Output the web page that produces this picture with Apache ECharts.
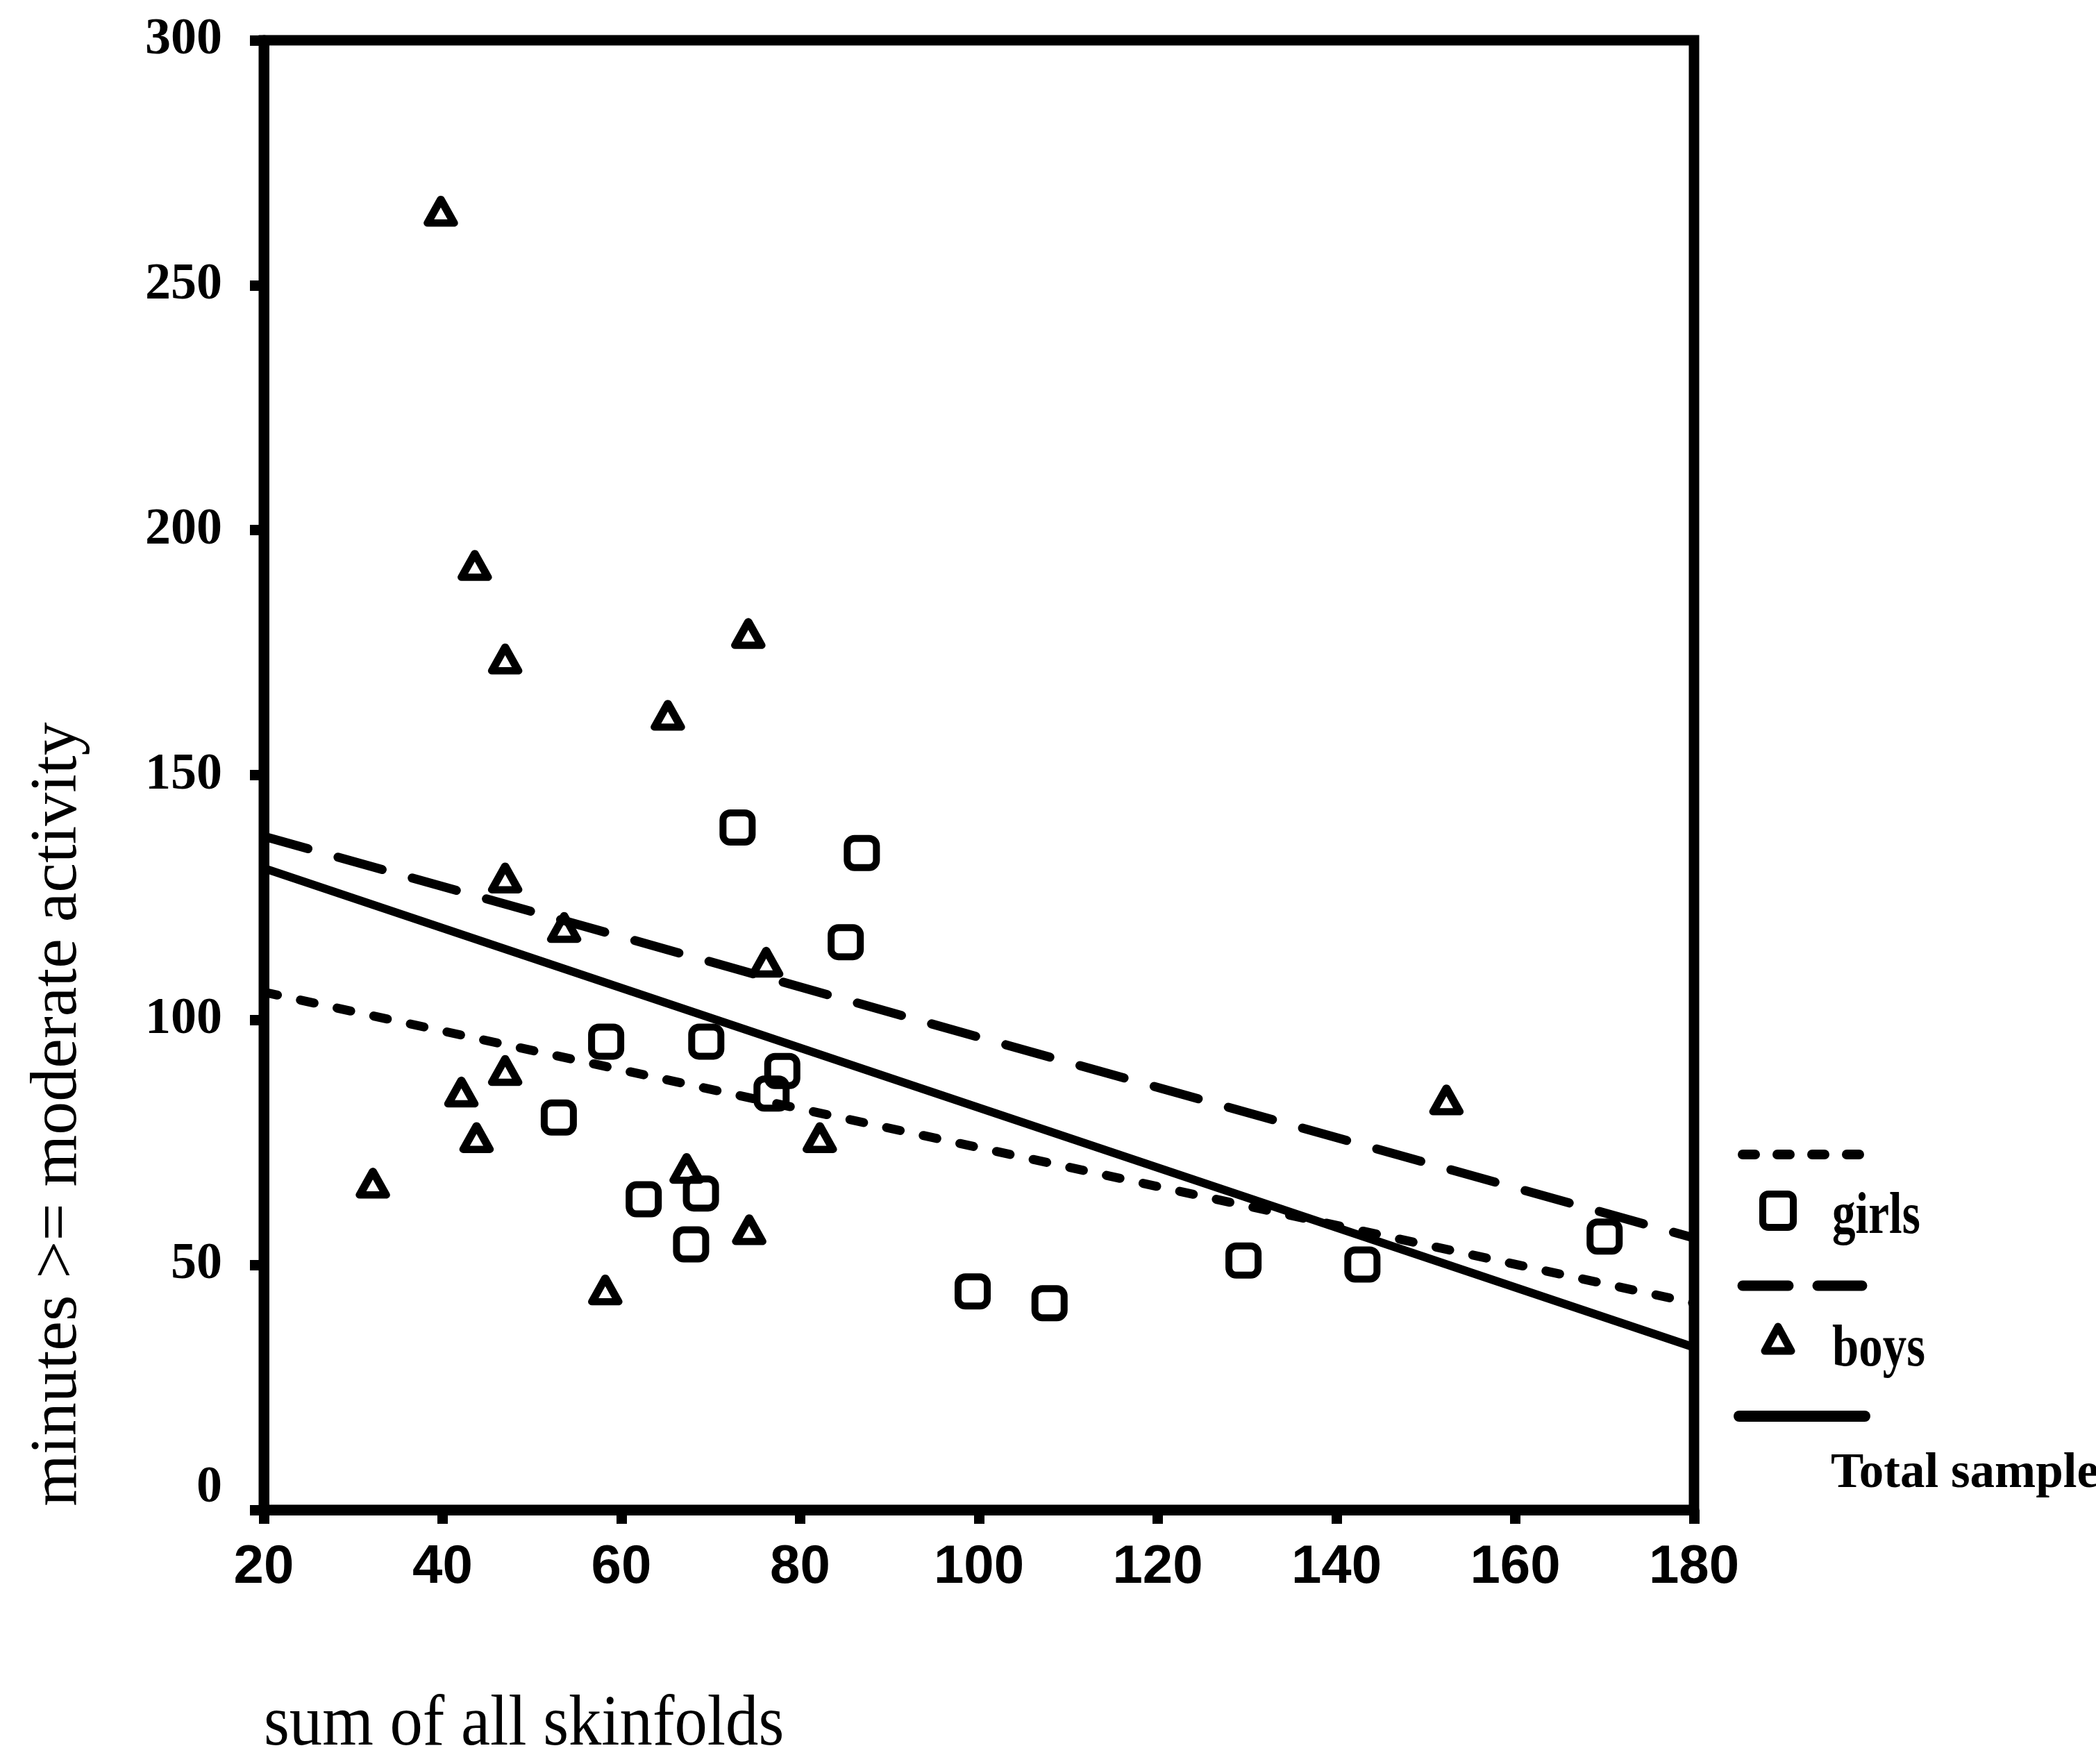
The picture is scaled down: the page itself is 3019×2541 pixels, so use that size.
<!DOCTYPE html>
<html>
<head>
<meta charset="utf-8">
<script src="https://cdn.jsdelivr.net/npm/echarts@6/dist/echarts.min.js"></script>
<style>
html, body { margin: 0; padding: 0; background: #fff; }
#chart { width: 3019px; height: 2541px; }
</style>
</head>
<body>
<div id="chart"></div>
<script>
// data
var girlsX = [73.0, 86.9, 85.1, 58.3, 69.5, 78.0, 76.8, 53.0, 62.5, 68.9, 67.8, 99.3, 107.9, 129.6, 142.9, 170.0];
var girlsY = [139.3, 134.1, 115.9, 95.6, 95.6, 89.6, 85.0, 80.1, 63.4, 64.6, 54.2, 44.6, 42.2, 50.9, 50.1, 55.8];
var boysX = [39.8, 43.6, 47.0, 74.2, 65.2, 47.0, 53.6, 76.2, 42.1, 47.0, 43.8, 32.2, 58.2, 67.3, 74.3, 82.2, 152.3];
var boysY = [265.1, 192.8, 173.7, 178.9, 162.2, 129.0, 118.9, 111.8, 85.3, 89.7, 76.0, 66.7, 44.9, 69.7, 57.2, 76.0, 83.7];

// regression lines (ends at the axis limits)
var fitX = [20, 180];
var girlsFit = [105.7, 42.2];
var boysFit = [137.5, 55.5];
var totalFit = [131.0, 33.2];

var legendNames = ['girls', 'boys', 'Total sample'];
var xTitle = 'sum of all skinfolds';
var yTitle = 'minutes >= moderate activity';

function pairs(xs, ys) {
    var out = [];
    for (var i = 0; i < xs.length; i++) out.push([xs[i], ys[i]]);
    return out;
}

var serif = "'Liberation Serif', 'Times New Roman', serif";
var sans = "'Liberation Sans', Arial, sans-serif";

var myChart = echarts.init(document.getElementById('chart'));

var option = {
    animation: false,
    backgroundColor: '#fff',
    grid: {
        left: 380, right: 579, top: 58, bottom: 366,
        show: true, borderColor: '#000', borderWidth: 15
    },
    xAxis: {
        type: 'value', min: 20, max: 180, interval: 20,
        axisLine: { lineStyle: { color: '#000', width: 15 } },
        axisTick: { length: 20, lineStyle: { color: '#000', width: 15 } },
        splitLine: { show: false },
        axisLabel: {
            color: '#000', fontFamily: sans, fontWeight: 'bold', fontSize: 78, margin: 44
        }
    },
    yAxis: {
        type: 'value', min: 0, max: 300, interval: 50,
        axisLine: { lineStyle: { color: '#000', width: 15 } },
        axisTick: { length: 20, lineStyle: { color: '#000', width: 15 } },
        splitLine: { show: false },
        axisLabel: {
            color: '#000', fontFamily: serif, fontWeight: 'bold', fontSize: 74, margin: 60,
            formatter: function(v) { return v === 0 ? '{z|0}' : String(v); },
            rich: { z: { fontFamily: serif, fontWeight: 'bold', fontSize: 74, padding: [0, 0, 62, 0] } }
        }
    },
    series: [{
        name: 'girls fit', type: 'line', data: pairs(fitX, girlsFit), symbol: 'none',
        lineStyle: { color: '#000', width: 13, type: [20, 34], cap: 'round' }
    }, {
        name: 'boys fit', type: 'line', data: pairs(fitX, boysFit), symbol: 'none',
        lineStyle: { color: '#000', width: 13, type: [66, 45], cap: 'round' }
    }, {
        name: 'total fit', type: 'line', data: pairs(fitX, totalFit), symbol: 'none',
        lineStyle: { color: '#000', width: 12 }
    }, {
        name: 'girls', type: 'scatter', data: pairs(girlsX, girlsY),
        symbol: 'roundRect', symbolSize: 42,
        itemStyle: { color: 'rgba(0,0,0,0)', borderColor: '#000', borderWidth: 10, opacity: 1 }
    }, {
        name: 'boys', type: 'scatter', data: pairs(boysX, boysY),
        symbol: 'triangle', symbolSize: [38, 34],
        itemStyle: { color: 'rgba(0,0,0,0)', borderColor: '#000', borderWidth: 11, borderJoin: 'round', opacity: 1 }
    }],
    graphic: [
        // axis titles
        { type: 'text', x: 380, y: 2486, scaleX: 0.91,
          style: { text: xTitle, font: '104px ' + serif, fill: '#000', align: 'left', verticalAlign: 'middle' } },
        { type: 'text', x: 84, y: 1605, rotation: Math.PI / 2,
          style: { text: yTitle, font: '96px ' + serif, fill: '#000', align: 'center', verticalAlign: 'middle' } },
        // legend
        { type: 'line', shape: { x1: 2510, y1: 1663, x2: 2686, y2: 1663 },
          style: { stroke: '#000', lineWidth: 14, lineDash: [18, 32], lineCap: 'round' } },
        { type: 'rect', shape: { x: 2539, y: 1720, width: 44, height: 48, r: 8 },
          style: { fill: 'none', stroke: '#000', lineWidth: 10 } },
        { type: 'text', x: 2639, y: 1754, scaleX: 0.8,
          style: { text: legendNames[0], font: 'bold 84px ' + serif, fill: '#000', align: 'left', verticalAlign: 'middle' } },
        { type: 'line', shape: { x1: 2510, y1: 1852, x2: 2682, y2: 1852 },
          style: { stroke: '#000', lineWidth: 15, lineDash: [66, 42], lineCap: 'round' } },
        { type: 'polygon', shape: { points: [[2561, 1911], [2580, 1946], [2542, 1946]] },
          style: { fill: 'none', stroke: '#000', lineWidth: 11, lineJoin: 'round' } },
        { type: 'text', x: 2639, y: 1945, scaleX: 0.82,
          style: { text: legendNames[1], font: 'bold 84px ' + serif, fill: '#000', align: 'left', verticalAlign: 'middle' } },
        { type: 'line', shape: { x1: 2505, y1: 2040, x2: 2686, y2: 2040 },
          style: { stroke: '#000', lineWidth: 16, lineCap: 'round' } },
        { type: 'text', x: 2637, y: 2124,
          style: { text: legendNames[2], font: 'bold 71px ' + serif, fill: '#000', align: 'left', verticalAlign: 'middle' } }
    ]
};

myChart.setOption(option);
</script>
</body>
</html>
